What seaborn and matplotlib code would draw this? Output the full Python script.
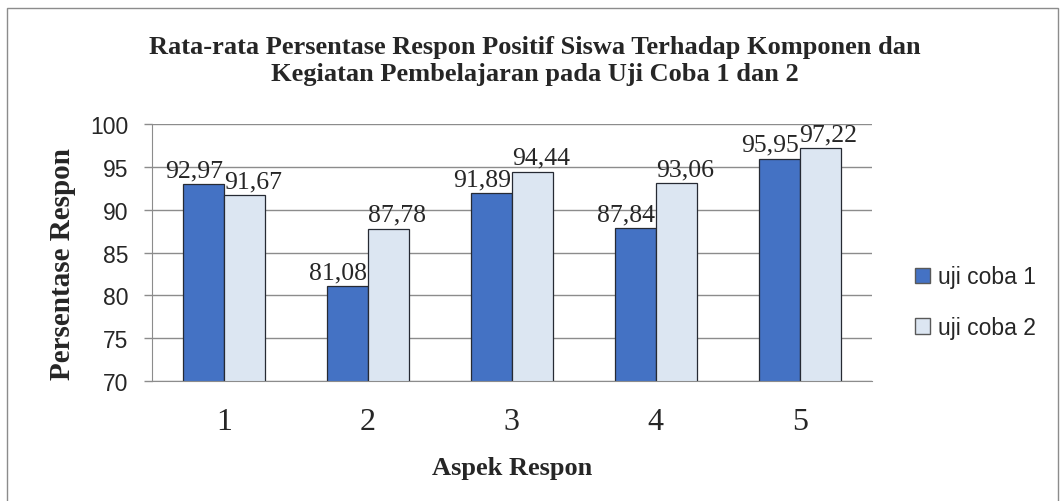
import matplotlib
matplotlib.use("Agg")
import matplotlib.pyplot as plt
import seaborn as sns
import pandas as pd
from matplotlib.patches import Rectangle

aspek = ["1", "2", "3", "4", "5"]
uji_coba_1 = [92.97, 81.08, 91.89, 87.84, 95.95]
uji_coba_2 = [91.67, 87.78, 94.44, 93.06, 97.22]
series = ["uji coba 1", "uji coba 2"]

df = pd.DataFrame({
    "aspek": aspek * 2,
    "nilai": uji_coba_1 + uji_coba_2,
    "seri": [series[0]] * 5 + [series[1]] * 5,
})

sns.set_style("white")
serif = "Liberation Serif"
sans = "Liberation Sans"

fig = plt.figure(figsize=(10.6, 5.02), dpi=100)
ax = fig.add_axes([0.1434, 0.239, 0.679, 0.512])

sns.barplot(data=df, x="aspek", y="nilai", hue="seri", ax=ax,
            palette=["#4472C4", "#DCE6F2"], width=0.57,
            edgecolor="#262a33", linewidth=0.9, saturation=1)

ax.set_ylim(70, 100)
ax.set_xlim(-0.5, 4.5)
ax.set_yticks(range(70, 101, 5))
ax.yaxis.grid(True, color="#8c8c8c", linewidth=1)
ax.set_axisbelow(True)
for s in ["top", "right"]:
    ax.spines[s].set_visible(False)
ax.spines["left"].set_color("#8c8c8c")
ax.spines["bottom"].set_color("#8c8c8c")

for lab in ax.get_yticklabels():
    lab.set_fontfamily(sans)
    lab.set_fontsize(16.5)
for lab in ax.get_xticklabels():
    lab.set_fontfamily(serif)
    lab.set_fontsize(23)
ax.tick_params(axis="y", length=6, width=1, color="#8c8c8c", pad=11, left=True)
ax.tick_params(axis="x", length=0, pad=19)

# excel nudges the labels apart: first series left, second right
shifts = [-7, 6]
for cont, dx in zip(ax.containers, shifts):
    labels = [f"{v:.2f}".replace(".", ",") for v in cont.datavalues]
    anns = ax.bar_label(cont, labels=labels, padding=2, fontsize=18.5, fontfamily=serif)
    for a in anns:
        a.xyann = (dx, a.xyann[1])

ax.set_xlabel("Aspek Respon", fontfamily=serif, fontsize=19, fontweight="bold")
ax.set_ylabel("Persentase Respon", fontfamily=serif, fontsize=21, fontweight="bold")
ax.xaxis.set_label_coords(0.5, -0.29)
ax.yaxis.set_label_coords(-0.105, 0.46)

fig.text(0.505, 0.878, "Rata-rata Persentase Respon Positif Siswa Terhadap Komponen dan\n"
         "Kegiatan Pembelajaran pada Uji Coba 1 dan 2",
         ha="center", va="center", fontfamily=serif, fontsize=19, fontweight="bold",
         linespacing=1.2)

leg = ax.legend(loc="center left", bbox_to_anchor=(0.852, 0.396),
                bbox_transform=fig.transFigure, frameon=False, borderpad=0,
                prop={"family": sans, "size": 16.5}, handlelength=0.68, handleheight=0.68,
                handletextpad=0.36, labelspacing=1.2)
for h in leg.legend_handles:
    h.set_edgecolor("#595959")
    h.set_linewidth(1)

fig.patches.append(Rectangle((0.007, -0.02), 0.991, 1.002, transform=fig.transFigure,
                             fill=False, edgecolor="#8c8c8c", linewidth=1))

fig.savefig("out.png", dpi=100)
